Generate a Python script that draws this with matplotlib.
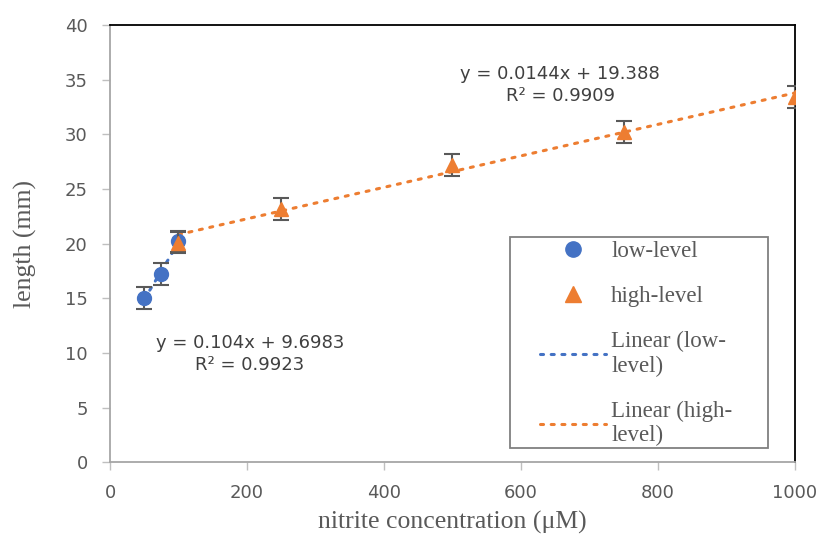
import numpy as np
import matplotlib
matplotlib.use('Agg')
from matplotlib import pyplot as plt
from matplotlib.lines import Line2D
from matplotlib.patches import Rectangle

low_x = [50, 75, 100]
low_y = [15.0, 17.2, 20.2]
low_err = [1.0, 1.0, 1.0]

high_x = [100, 250, 500, 750, 1000]
high_y = [20.1, 23.2, 27.2, 30.2, 33.4]
high_err = [1.0, 1.0, 1.0, 1.0, 1.0]

low_fit = (0.104, 9.6983)
high_fit = (0.0144, 19.388)

blue = '#4472C4'
orange = '#ED7D31'
grey = '#595959'
dots = (0, (1, 2.5))

fig = plt.figure(figsize=(8.21, 5.45), dpi=100)
ax = fig.add_axes([0.134, 0.152, 0.834, 0.802])

ax.errorbar(low_x, low_y, yerr=low_err, fmt='o', color=blue, ms=10,
            ecolor=grey, elinewidth=1.5, capsize=6, capthick=1.5, zorder=3)
ax.errorbar(high_x, high_y, yerr=high_err, fmt='^', color=orange, ms=10,
            ecolor=grey, elinewidth=1.5, capsize=6, capthick=1.5, zorder=4)

xl = np.array([min(low_x), max(low_x)])
ax.plot(xl, low_fit[0] * xl + low_fit[1], linestyle=dots, color=blue, lw=2.2,
        dash_capstyle='round', zorder=2)
xh = np.array([min(high_x), max(high_x)])
ax.plot(xh, high_fit[0] * xh + high_fit[1], linestyle=dots, color=orange, lw=2.2,
        dash_capstyle='round', zorder=2)

tfont = dict(family='DejaVu Sans', fontsize=13, color='#404040')
ax.text(657, 35.5, 'y = 0.0144x + 19.388', ha='center', va='center', **tfont)
ax.text(658, 33.5, 'R² = 0.9909', ha='center', va='center', **tfont)
ax.text(204, 10.9, 'y = 0.104x + 9.6983', ha='center', va='center', **tfont)
ax.text(204, 8.9, 'R² = 0.9923', ha='center', va='center', **tfont)

ax.set_xlim(0, 1000)
ax.set_ylim(0, 40)
ax.set_xticks(range(0, 1001, 200))
ax.set_yticks(range(0, 41, 5))
ax.tick_params(labelsize=13, colors=grey, length=6, width=1, color='#BFBFBF')
for lab in ax.get_xticklabels() + ax.get_yticklabels():
    lab.set_family('DejaVu Sans')
ax.tick_params(axis='x', pad=10)
ax.tick_params(axis='y', pad=10)

ax.spines['left'].set_color('#A6A6A6')
ax.spines['bottom'].set_color('#A6A6A6')
ax.spines['top'].set_color('black')
ax.spines['right'].set_color('black')
for s in ax.spines.values():
    s.set_linewidth(1.3)

ax.set_xlabel('nitrite concentration (μM)', family='Liberation Serif', fontsize=18.5, color=grey, labelpad=6)
ax.set_ylabel('length (mm)', family='Liberation Serif', fontsize=18.5, color=grey, labelpad=20)

# legend frame drawn separately, entries placed with a frameless legend
ax.add_patch(Rectangle((0.584, 0.032), 0.377, 0.483, transform=ax.transAxes, fill=True,
                       facecolor='white', edgecolor='#808080', lw=1.3, zorder=5))
handles = [
    Line2D([], [], marker='o', color=blue, ls='none', ms=11),
    Line2D([], [], marker='^', color=orange, ls='none', ms=11),
    Line2D([], [], color=blue, ls=dots, lw=2.2, dash_capstyle='round'),
    Line2D([], [], color=orange, ls=dots, lw=2.2, dash_capstyle='round'),
]
labels = ['low-level', 'high-level', 'Linear (low-\nlevel)', 'Linear (high-\nlevel)']
leg = ax.legend(handles, labels, loc='upper left', bbox_to_anchor=(0.628, 0.506),
                prop={'family': 'Liberation Serif', 'size': 16.5}, frameon=False,
                labelspacing=1.05, handlelength=2.9, handletextpad=0.2,
                borderpad=0, borderaxespad=0)
leg.set_zorder(6)
for t in leg.get_texts():
    t.set_color(grey)
    t.set_linespacing(1.2)

fig.savefig('out.png', dpi=100)
